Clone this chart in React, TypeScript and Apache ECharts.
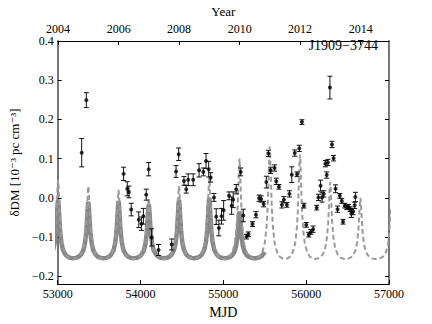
import React, { useEffect, useRef } from "react";
import * as echarts from "echarts";

// Observations: MJD, delta-DM (1e-3 pc cm^-3), 1-sigma error
const obsMJD = [
  53290, 53346, 53796, 53840, 53860, 53888, 53979, 54011, 54035, 54069,
  54099, 54134, 54218, 54377, 54429, 54461, 54525, 54552, 54576, 54636,
  54707, 54759, 54791, 54823, 54847, 54887, 54914, 54946, 54978, 55004,
  55069, 55100, 55119, 55155, 55210, 55241, 55281, 55302, 55352, 55394,
  55432, 55456, 55487, 55519, 55543, 55571, 55619, 55639, 55671, 55707,
  55731, 55767, 55798, 55826, 55862, 55890, 55917, 55949, 55973, 56001,
  56031, 56057, 56084, 56127, 56148, 56174, 56192, 56212, 56232, 56248,
  56263, 56287, 56311, 56331, 56355, 56379, 56406, 56430, 56445, 56466,
  56490, 56510, 56531, 56546, 56567, 56586, 56594,
];
const obsDDM = [
  0.115, 0.249, 0.061, 0.023, 0.015, -0.03, -0.056, -0.066, -0.047, 0.008,
  0.073, -0.101, -0.133, -0.119, 0.067, 0.111, 0.043, 0.022, 0.046, 0.046,
  0.07, 0.066, 0.094, 0.073, 0.052, 0.001, -0.048, -0.077, -0.047, -0.032,
  0.005, -0.02, -0.005, 0.022, 0.066, -0.045, -0.099, -0.093, -0.067, -0.043,
  -0.001, -0.003, -0.016, 0.04, 0.113, 0.07, 0.076, 0.042, 0.028, -0.018,
  -0.005, -0.018, 0.01, 0.059, 0.114, 0.06, 0.126, 0.193, -0.02, -0.069,
  -0.094, -0.087, -0.08, -0.025, 0.001, 0.031, 0.001, 0.01, 0.087, 0.058,
  0.09, 0.281, 0.136, 0.101, 0.023, -0.029, 0.005, -0.008, -0.061, -0.02,
  -0.024, -0.023, -0.029, -0.04, -0.035, -0.019, 0.002,
];
const obsErr = [
  0.036, 0.019, 0.017, 0.018, 0.015, 0.016, 0.02, 0.017, 0.02, 0.014,
  0.017, 0.022, 0.014, 0.014, 0.015, 0.016, 0.011, 0.01, 0.015, 0.015,
  0.017, 0.01, 0.019, 0.02, 0.012, 0.01, 0.02, 0.02, 0.02, 0.025,
  0.01, 0.022, 0.02, 0.012, 0.01, 0.016, 0.006, 0.006, 0.006, 0.008,
  0.008, 0.008, 0.007, 0.015, 0.008, 0.008, 0.008, 0.008, 0.006, 0.008,
  0.008, 0.006, 0.008, 0.02, 0.008, 0.006, 0.008, 0.006, 0.006, 0.006,
  0.006, 0.006, 0.008, 0.006, 0.008, 0.014, 0.012, 0.008, 0.008, 0.008,
  0.008, 0.029, 0.008, 0.007, 0.01, 0.008, 0.006, 0.006, 0.006, 0.006,
  0.006, 0.006, 0.006, 0.01, 0.008, 0.008, 0.012,
];

// Solar-wind model curves, read per yearly conjunction (peak MJD, peak height)
const peakMJD = [53005, 53370, 53735, 54100, 54465, 54830, 55195, 55560, 55925, 56290, 56655, 57025];
const dashedPeak = [0.045, 0.03, 0.02, 0.0, 0.03, 0.05, 0.1, 0.13, 0.11, 0.04, 0.0, -0.03];
const dashedMin = -0.156;
const solidPeak = [-0.005, -0.01, -0.008, -0.017, -0.005, 0.0, -0.035, -0.04];
const solidMin = -0.154;
const solidEndMJD = 55512;
// Shape of one cusp: days from conjunction, fraction of the peak height
const cuspOffset = [-182, -150, -120, -90, -60, -40, -25, -12, -6, 0, 6, 12, 25, 40, 60, 90, 120, 150, 182];
const cuspShape = [0, 0.006, 0.022, 0.06, 0.14, 0.27, 0.46, 0.76, 0.92, 1, 0.92, 0.76, 0.46, 0.27, 0.14, 0.06, 0.022, 0.006, 0];

// Axis ticks
const mjdTicks = [53000, 54000, 55000, 56000, 57000];
const dmTicks = [-0.2, -0.1, 0.0, 0.1, 0.2, 0.3, 0.4];
const yearLabels = ["2004", "2006", "2008", "2010", "2012", "2014"];
const yearMJD = [53005, 53736, 54466, 55197, 55927, 56658];

function buildCurve(peaks: number[], heights: number[], base: number, endMJD: number) {
  const pts: number[][] = [];
  for (let k = 0; k < heights.length; k++) {
    for (let i = 0; i < cuspOffset.length; i++) {
      if (k > 0 && i === 0) continue;
      const x = peaks[k] + cuspOffset[i];
      if (x > endMJD) continue;
      pts.push([x, base + (heights[k] - base) * cuspShape[i]]);
    }
  }
  return pts;
}

const FONT = "'Liberation Serif', 'DejaVu Serif', serif";
const fmtNum = (v: number) => v.toFixed(1).replace("-", "\u2212");

export default function App() {
  const ref = useRef<HTMLDivElement>(null);
  useEffect(() => {
    if (!ref.current) return;
    const chart = echarts.init(ref.current, undefined, { renderer: "svg" });
    const dashed = buildCurve(peakMJD, dashedPeak, dashedMin, 57100);
    const solid = buildCurve(peakMJD, solidPeak, solidMin, solidEndMJD);
    const errData = obsMJD.map((m, i) => [m, obsDDM[i] - obsErr[i], obsDDM[i] + obsErr[i]]);
    const ptData = obsMJD.map((m, i) => [m, obsDDM[i]]);
    const labelStyle = { color: "#000", fontFamily: FONT, fontSize: 12 };
    chart.setOption({
      animation: false,
      backgroundColor: "#fff",
      grid: { left: 54, right: 43, top: 33, bottom: 33 },
      xAxis: [
        {
          type: "value",
          position: "bottom",
          min: 53000,
          max: 57000,
          interval: 1000,
          name: "MJD",
          nameLocation: "middle",
          nameGap: 15,
          nameTextStyle: { color: "#000", fontFamily: FONT, fontSize: 14, verticalAlign: "top" },
          axisLine: { show: true, onZero: false, lineStyle: { color: "#000", width: 1 } },
          axisTick: { show: true, inside: true, length: 4, customValues: mjdTicks, lineStyle: { color: "#000" } },
          axisLabel: { ...labelStyle, margin: 4, customValues: mjdTicks, formatter: (v: number) => String(v) },
          splitLine: { show: false },
        },
        {
          type: "value",
          position: "top",
          min: 53000,
          max: 57000,
          name: "Year",
          nameLocation: "middle",
          nameGap: 18,
          nameTextStyle: { color: "#000", fontFamily: FONT, fontSize: 13 },
          axisLine: { show: true, onZero: false, lineStyle: { color: "#000", width: 1 } },
          axisTick: { show: true, inside: true, length: 4, customValues: yearMJD, lineStyle: { color: "#000" } },
          axisLabel: {
            ...labelStyle,
            margin: 6,
            customValues: yearMJD,
            formatter: (v: number) => {
              const idx = yearMJD.indexOf(Math.round(v));
              return idx >= 0 ? yearLabels[idx] : "";
            },
          },
          splitLine: { show: false },
        },
      ],
      yAxis: [
        {
          type: "value",
          position: "left",
          min: -0.22,
          max: 0.4,
          name: "\u03b4DM [10\u207b\u00b3 pc cm\u207b\u00b3]",
          nameLocation: "middle",
          nameGap: 33,
          nameTextStyle: { color: "#000", fontFamily: FONT, fontSize: 13 },
          axisLine: { show: true, onZero: false, lineStyle: { color: "#777", width: 2 } },
          axisTick: { show: true, inside: true, length: 4, customValues: dmTicks, lineStyle: { color: "#000" } },
          axisLabel: { ...labelStyle, margin: 4, customValues: dmTicks, formatter: fmtNum },
          splitLine: { show: false },
        },
        {
          type: "value",
          position: "right",
          min: -0.22,
          max: 0.4,
          axisLine: { show: true, onZero: false, lineStyle: { color: "#777", width: 2 } },
          axisTick: { show: true, inside: true, length: 4, customValues: dmTicks, lineStyle: { color: "#000" } },
          axisLabel: { show: false },
          splitLine: { show: false },
        },
      ],
      graphic: [
        {
          type: "text",
          right: 54,
          top: 38,
          style: { text: "J1909\u22123744", fill: "#000", fontFamily: FONT, fontSize: 14 },
        },
      ],
      series: [
        {
          type: "line",
          data: solid,
          xAxisIndex: 0,
          yAxisIndex: 0,
          showSymbol: false,
          symbol: "none",
          clip: true,
          lineStyle: { color: "#878787", width: 4.5 },
          z: 2,
        },
        {
          type: "line",
          data: dashed,
          xAxisIndex: 0,
          yAxisIndex: 0,
          showSymbol: false,
          symbol: "none",
          clip: true,
          lineStyle: { color: "#9a9a9a", width: 2, type: [5, 3] },
          z: 3,
        },
        {
          type: "custom",
          xAxisIndex: 0,
          yAxisIndex: 0,
          data: errData,
          encode: { x: 0, y: [1, 2] },
          z: 4,
          renderItem: (_p: any, api: any) => {
            const x = api.value(0);
            const lo = api.coord([x, api.value(1)]);
            const hi = api.coord([x, api.value(2)]);
            const st = { stroke: "#111", lineWidth: 1 };
            return {
              type: "group",
              children: [
                { type: "line", shape: { x1: lo[0], y1: lo[1], x2: hi[0], y2: hi[1] }, style: st },
                { type: "line", shape: { x1: lo[0] - 2.5, y1: lo[1], x2: lo[0] + 2.5, y2: lo[1] }, style: st },
                { type: "line", shape: { x1: hi[0] - 2.5, y1: hi[1], x2: hi[0] + 2.5, y2: hi[1] }, style: st },
              ],
            };
          },
        },
        {
          type: "scatter",
          xAxisIndex: 0,
          yAxisIndex: 0,
          data: ptData,
          symbol: "circle",
          symbolSize: 4,
          itemStyle: { color: "#000" },
          z: 5,
        },
      ],
    });
    return () => chart.dispose();
  }, []);
  return (
    <div
      ref={ref}
      style={{ position: "fixed", left: 0, top: 0, width: 432, height: 324 }}
    />
  );
}
